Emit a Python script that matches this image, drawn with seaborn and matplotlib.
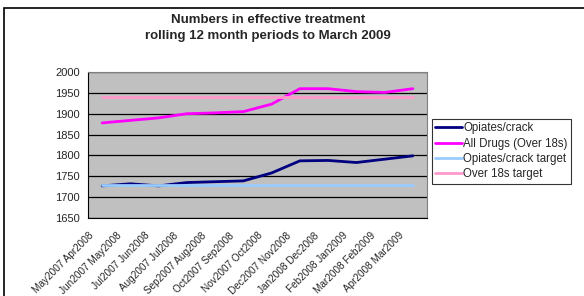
import numpy as np
import pandas as pd
import seaborn as sns
import matplotlib.pyplot as plt
from matplotlib.patches import Rectangle

periods = ["May2007 Apr2008", "Jun2007 May2008", "Jul2007 Jun2008", "Aug2007 Jul2008",
           "Sep2007 Aug2008", "Oct2007 Sep2008", "Nov2007 Oct2008", "Dec2007 Nov2008",
           "Jan2008 Dec2008", "Feb2008 Jan2009", "Mar2008 Feb2009", "Apr2008 Mar2009"]
opiates = [1727, 1732, 1727, 1735, 1737, 1739, 1758, 1787, 1788, 1783, 1791, 1799]
all_drugs = [1878, 1884, 1890, 1900, 1902, 1905, 1923, 1960, 1960, 1953, 1951, 1960]
opiates_target = [1730] * 12
over18_target = [1940] * 12

series_names = ["Opiates/crack", "All Drugs (Over 18s)", "Opiates/crack target", "Over 18s target"]
colors = ["#000080", "#FF00FF", "#99CCFF", "#FF99CC"]

df = pd.DataFrame({
    "x": list(range(len(periods))) * 4,
    "value": opiates + all_drugs + opiates_target + over18_target,
    "series": np.repeat(series_names, len(periods)),
})

sns.set_style("white")
plt.rcParams['font.family'] = ['Liberation Sans', 'DejaVu Sans']

fig = plt.figure(figsize=(5.84, 2.96), dpi=100)
ax = fig.add_axes([88 / 584, 1 - 218 / 296, 339 / 584, 146 / 296])
ax.set_facecolor("#C0C0C0")

sns.lineplot(data=df, x="x", y="value", hue="series", hue_order=series_names,
             palette=colors, linewidth=2, ax=ax, legend=False)

ax.set_xlim(-0.5, len(periods) - 0.5)
ax.set_ylim(1650, 2000)
ax.set_yticks(np.arange(1650, 2001, 50))
ax.yaxis.grid(True, color="black", linewidth=0.9)
ax.set_axisbelow(True)
# Excel-style: labels sit at the category boundary ticks
ax.set_xticks(np.arange(-0.5, len(periods), 1))
ax.set_xticklabels(periods + [""], rotation=45, ha="right", rotation_mode="anchor", fontsize=7.2)
ax.tick_params(axis="x", length=4, width=0.8, color="black", direction="out", pad=5)
ax.tick_params(axis="y", length=4, width=0.8, color="black", direction="out", labelsize=8, pad=2)
ax.set_xlabel("")
ax.set_ylabel("")
for side in ["top", "right"]:
    ax.spines[side].set_color("#808080")
for side in ["left", "bottom"]:
    ax.spines[side].set_color("black")

handles = [plt.Line2D([], [], color=c, linewidth=2) for c in colors]
leg = fig.legend(handles, series_names, loc="upper left",
                 bbox_to_anchor=(432 / 584, 1 - 119 / 296), fontsize=8.3,
                 frameon=True, fancybox=False, edgecolor="black", handlelength=2.3,
                 handletextpad=0.1, borderpad=0.3, labelspacing=0.28, borderaxespad=0)
leg.get_frame().set_linewidth(0.8)

fig.text(268 / 584, 1 - 28 / 296, "Numbers in effective treatment\nrolling 12 month periods to March 2009",
         ha="center", va="center", fontsize=9.5, fontweight="bold", linespacing=1.5)

fig.patches.append(Rectangle((4 / 584, -0.1), 1.1, 1 - 8 / 296 + 0.1, transform=fig.transFigure,
                             fill=False, edgecolor="black", linewidth=1.2))

fig.savefig("out.png", dpi=100)
